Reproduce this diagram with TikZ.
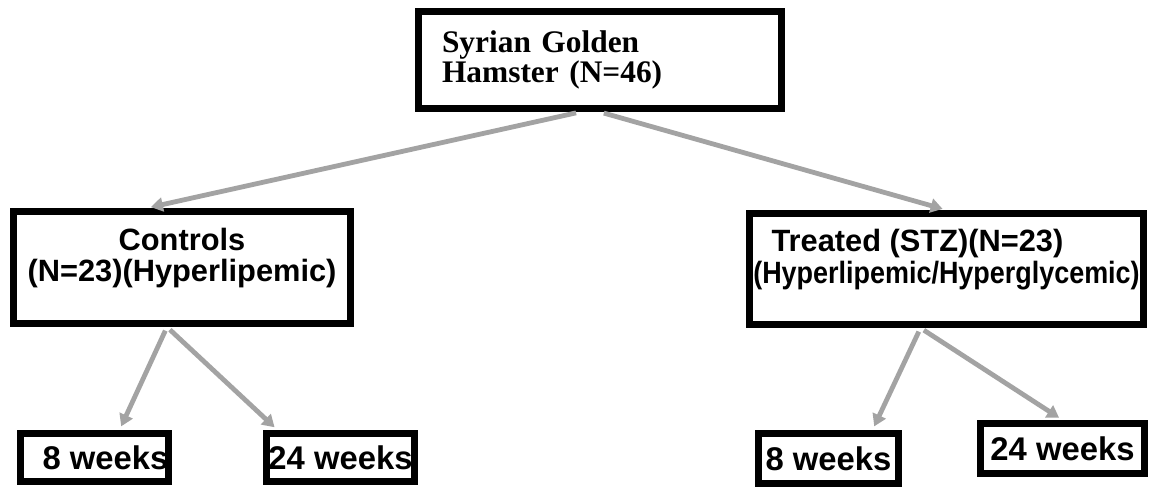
\documentclass[tikz,border=0pt]{standalone}
\usepackage{fontspec}
\setmainfont{Liberation Serif}
\setsansfont{Liberation Sans}
\usetikzlibrary{arrows.meta}

% two lines, drawn a little higher than the box centre
\newcommand{\liftup}[1]{\raisebox{4pt}[\height][\depth]{\begin{tabular}{@{}c@{}}#1\end{tabular}}}

\begin{document}
\begin{tikzpicture}[x=0.5pt, y=-0.5pt, thick]
    \tikzset{
        box/.style={rectangle, draw=black, line width=3.5pt, fill=white, inner sep=0pt, align=center, font=\sffamily\bfseries\fontsize{15.4}{15.5}\selectfont},
        leaf/.style={box, font=\sffamily\bfseries\fontsize{16.4}{16}\selectfont},
        line/.style={draw=black!36, line width=2.4pt, -{Triangle[width=7pt,length=6pt]}, shorten <=2pt, shorten >=2pt}
    }
    \useasboundingbox (0,0) rectangle (1153,488);

    \node (Root) [box, minimum width=181.5pt, minimum height=48.5pt, text width=158pt, align=left, font=\rmfamily\bfseries\fontsize{15.7}{15}\selectfont] at (600,60) {Syrian Golden\\Hamster (N=46)};

    \node (Ctrl) [box, minimum width=168.5pt, minimum height=56pt] at (182,267.5) {\liftup{Controls\\(N=23)(Hyperlipemic)}};
    \node (Stz) [box, minimum width=197pt, minimum height=55.5pt] at (946.5,269) {\liftup{Treated (STZ)(N=23)\hspace*{29pt}\\\scalebox{0.875}[1]{(Hyperlipemic/Hyperglycemic)}}};

    \node (Ctrl8) [leaf, minimum width=69pt, minimum height=24pt] at (94.5,457.5) {\hspace*{11pt}8 weeks};
    \node (Ctrl24) [leaf, minimum width=74pt, minimum height=24pt] at (340.5,457.5) {24 weeks};
    \node (Stz8) [leaf, minimum width=70pt, minimum height=25pt] at (828.5,458.5) {8 weeks};
    \node (Stz24) [leaf, minimum width=82pt, minimum height=25pt] at (1062.5,448.5) {24 weeks};

    \path [line] ([xshift=-10pt]Root.south) -- ([xshift=-17.5pt]Ctrl.north);
    \path [line] (Root.south) -- (Stz.north);
    \path [line] ([xshift=-7.5pt]Ctrl.south) -- ([xshift=12.5pt]Ctrl8.north);
    \path [line] ([xshift=-7.5pt]Ctrl.south) -- ([xshift=-31.5pt]Ctrl24.north);
    \path [line] ([xshift=-13pt]Stz.south) -- ([xshift=22pt]Stz8.north);
    \path [line] ([xshift=-13pt]Stz.south) -- (Stz24.north);

\end{tikzpicture}
\end{document}
